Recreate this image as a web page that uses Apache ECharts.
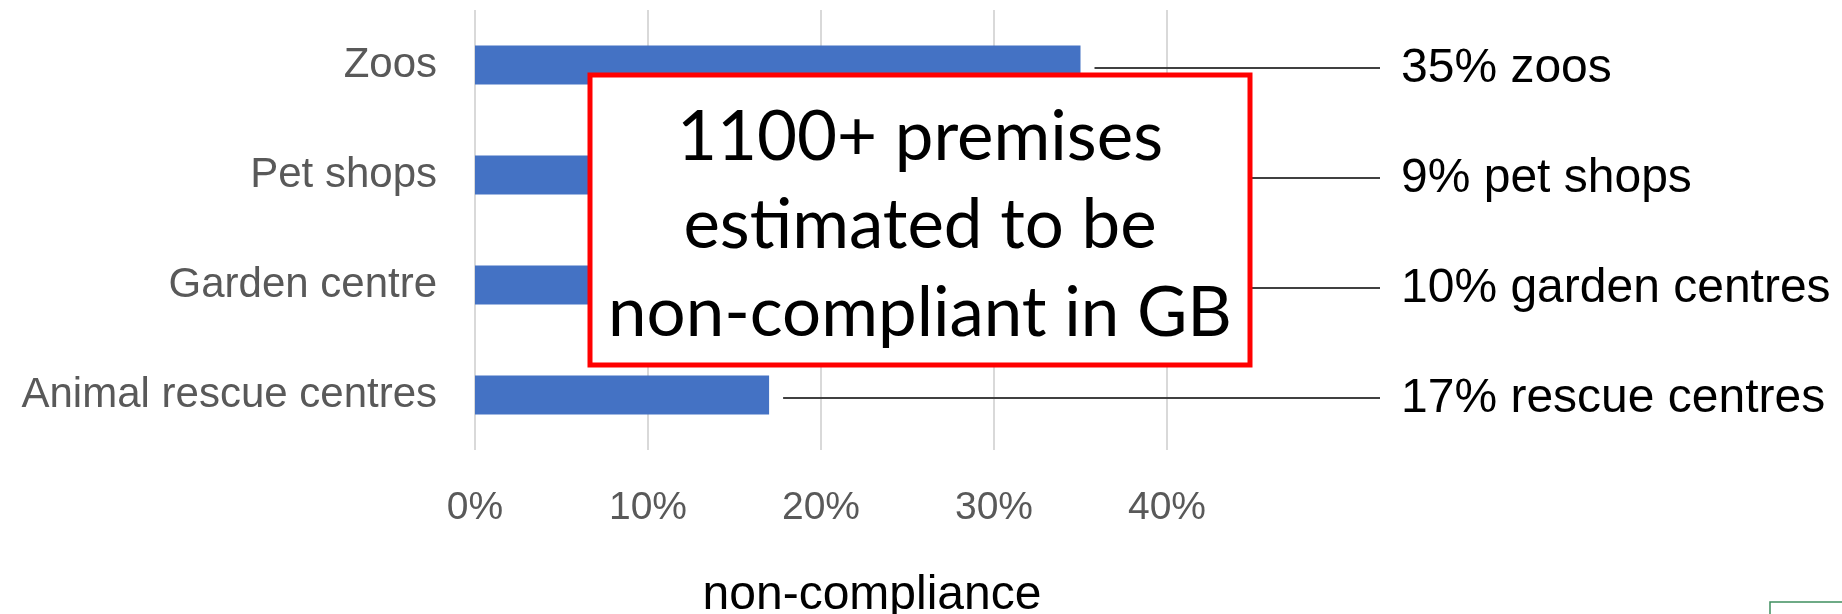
<!DOCTYPE html>
<html>
<head>
<meta charset="utf-8">
<script src="https://cdn.jsdelivr.net/npm/echarts@6/dist/echarts.min.js"></script>
<style>
  html, body { margin: 0; padding: 0; background: #fff; }
  #chart { width: 1842px; height: 614px; }
</style>
</head>
<body>
<div id="chart"></div>
<script>
	var categories = ['Zoos', 'Pet shops', 'Garden centre', 'Animal rescue centres'];
	var values = [35, 9, 10, 17];
	var sideLabels = ['35% zoos', '9% pet shops', '10% garden centres', '17% rescue centres'];
	var boxLines = ['1100+ premises', 'estimated to be', 'non-compliant in GB'];
	var axisTitle = 'non-compliance';

	var chart = echarts.init(document.getElementById('chart'));
	var font = '"Liberation Sans", Arial, sans-serif';

	// leader line + text for each bar
	var leaderData = [];
	for (var i = 0; i < values.length; i++) {
		leaderData.push([values[i], i, sideLabels[i]]);
	}

	var option = {
		animation: false,
		backgroundColor: '#fff',
		grid: { left: 475, right: 675, top: 10, bottom: 164 },
		xAxis: {
			type: 'value',
			min: 0,
			max: 40,
			interval: 10,
			axisLine: { show: false },
			axisTick: { show: false },
			axisLabel: {
				formatter: '{value}%',
				color: '#595959',
				fontSize: 39,
				fontFamily: font,
				margin: 39
			},
			splitLine: { lineStyle: { color: '#d9d9d9', width: 2 } }
		},
		yAxis: {
			type: 'category',
			inverse: true,
			data: categories,
			axisLine: { show: false },
			axisTick: { show: false },
			axisLabel: {
				color: '#595959',
				fontSize: 42,
				fontFamily: font,
				margin: 38
			}
		},
		series: [{
			type: 'bar',
			data: values,
			barWidth: 39,
			itemStyle: { color: '#4472C4' }
		}, {
			type: 'custom',
			data: leaderData,
			z: 3,
			renderItem: function (params, api) {
				var p = api.coord([api.value(0), api.value(1)]);
				var txt = leaderData[params.dataIndex][2];
				return {
					type: 'group',
					children: [{
						type: 'line',
						shape: { x1: p[0] + 14, y1: p[1] + 3, x2: 1380, y2: p[1] + 3 },
						style: { stroke: '#404040', lineWidth: 2 }
					}, {
						type: 'text',
						x: 1401,
						y: p[1] + 4,
						style: {
							text: txt,
							fill: '#000',
							font: '48px ' + font,
							textAlign: 'left',
							textVerticalAlign: 'middle'
						}
					}]
				};
			}
		}],
		graphic: [{
			type: 'rect',
			z: 100,
			shape: { x: 590, y: 75, width: 660, height: 290 },
			style: { fill: '#fff', stroke: '#ff0000', lineWidth: 5 }
		}, {
			type: 'text',
			z: 101,
			x: 920,
			y: 226,
			style: {
				text: boxLines.join('\n'),
				fill: '#000',
				font: '69px Lato, "Open Sans", sans-serif',
				lineHeight: 88,
				textAlign: 'center',
				textVerticalAlign: 'middle'
			}
		}, {
			type: 'text',
			x: 872,
			y: 596,
			style: {
				text: axisTitle,
				fill: '#000',
				font: '48px ' + font,
				textAlign: 'center',
				textVerticalAlign: 'middle'
			}
		}, {
			type: 'rect',
			shape: { x: 1770, y: 602, width: 90, height: 30 },
			style: { fill: '#fff', stroke: '#3f8f5f', lineWidth: 1.5 }
		}]
	};
	chart.setOption(option);
</script>
</body>
</html>
